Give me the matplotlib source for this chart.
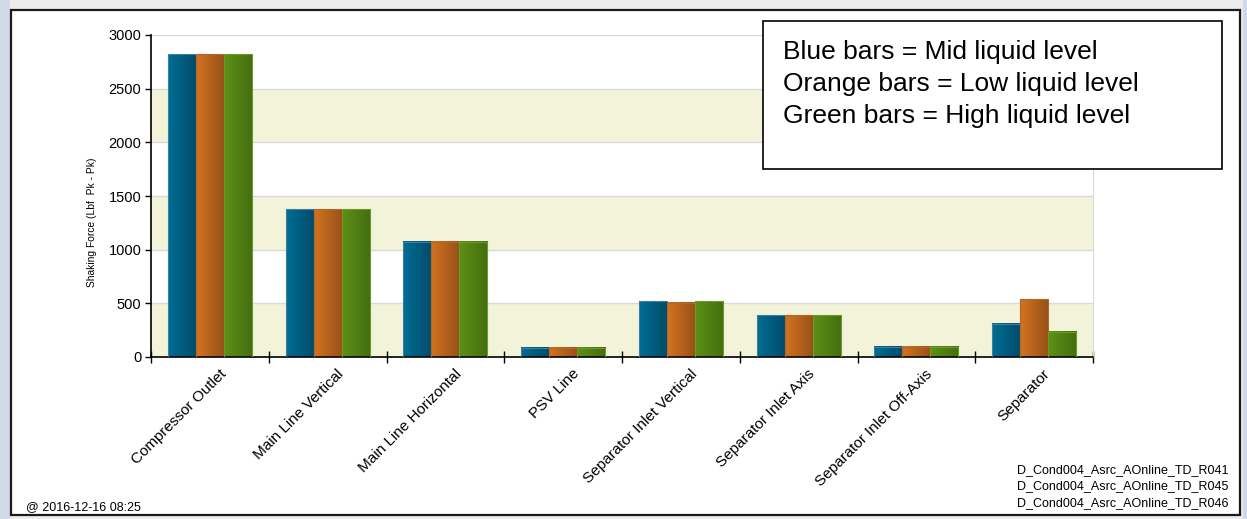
import matplotlib.pyplot as plt
import numpy as np
from matplotlib.colors import LinearSegmentedColormap
from matplotlib.patches import Rectangle
from matplotlib.transforms import ScaledTranslation

plt.rcParams['font.family'] = ['Liberation Sans', 'DejaVu Sans']

categories = ['Compressor Outlet', 'Main Line Vertical', 'Main Line Horizontal', 'PSV Line',
              'Separator Inlet Vertical', 'Separator Inlet Axis', 'Separator Inlet Off-Axis',
              'Separator']
mid_level = [2820, 1375, 1075, 85, 520, 390, 97, 311]
low_level = [2820, 1375, 1075, 85, 506, 390, 97, 540]
high_level = [2820, 1375, 1075, 85, 520, 390, 97, 233]
run_ids = ['D_Cond004_Asrc_AOnline_TD_R041',
           'D_Cond004_Asrc_AOnline_TD_R045',
           'D_Cond004_Asrc_AOnline_TD_R046']
note_lines = ['Blue bars = Mid liquid level',
              'Orange bars = Low liquid level',
              'Green bars = High liquid level']
stamp = '@ 2016-12-16 08:25'

# left (light) -> right (dark) shading for each series
shades = [('#006d95', '#004b69', '#3f7f9c'),
          ('#d4731f', '#975019', '#b0682a'),
          ('#5c9116', '#456d10', '#6a9a2a')]

W, H = 1247, 519
fig = plt.figure(figsize=(W / 100, H / 100), dpi=100)
fig.patch.set_facecolor('#d0dae7')

# window body and frame
fig.patches.append(Rectangle((10 / W, 0), 1233 / W, 1, transform=fig.transFigure,
                             facecolor='#ececec', edgecolor='none', zorder=-2))
fig.patches.append(Rectangle((11 / W, 4 / H), 1229 / W, 505 / H, transform=fig.transFigure,
                             facecolor='white', edgecolor='#1a1a1a', lw=1.6, zorder=-1))

ax = fig.add_axes([151 / W, 1 - 357 / H, (1093 - 151) / W, (357 - 35) / H])
ax.set_zorder(1)

# alternating bands + grid
for lo in range(0, 3000, 1000):
    ax.axhspan(lo, lo + 500, color='#f3f3da', zorder=0, lw=0)
for yv in range(500, 3001, 500):
    ax.axhline(yv, color='#d9d9d9', lw=1, zorder=0.5)

x = np.arange(len(categories))
bw = 0.238
grad = np.linspace(0, 1, 64).reshape(1, -1)
for k, vals in enumerate([mid_level, low_level, high_level]):
    c0, c1, edge = shades[k]
    cmap = LinearSegmentedColormap.from_list('s%d' % k, [c0, c1])
    for xi, v in zip(x + (k - 1) * bw, vals):
        ax.imshow(grad, cmap=cmap, aspect='auto', extent=[xi - bw / 2, xi + bw / 2, 0, v],
                  zorder=2, interpolation='bilinear')
    ax.bar(x + (k - 1) * bw, vals, bw, facecolor='none', edgecolor=edge, lw=0.8, zorder=3)

ax.set_xlim(-0.5, 7.5)
ax.set_ylim(0, 3000)

ax.spines['top'].set_visible(False)
ax.spines['right'].set_color('#d9d9d9')
ax.spines['left'].set_color('black')
ax.spines['bottom'].set_color('black')
ax.spines['left'].set_linewidth(1.2)
ax.spines['bottom'].set_linewidth(1.2)

ax.set_yticks(range(0, 3001, 500))
ax.tick_params(axis='y', direction='out', length=4, width=1, labelsize=10.5, pad=3)
ax.set_xticks(np.arange(-0.5, 8, 1))
ax.set_xticklabels([])
ax.tick_params(axis='x', which='major', direction='inout', length=8, width=1)
ax.set_xticks(x, minor=True)
ax.set_xticklabels(categories, minor=True, rotation=45, ha='right',
                   rotation_mode='anchor', fontsize=11)
ax.tick_params(axis='x', which='minor', length=0, pad=7)
for lbl in ax.get_xticklabels(minor=True):
    lbl.set_transform(lbl.get_transform() + ScaledTranslation(0.09, 0, fig.dpi_scale_trans))

ax.set_ylabel('Shaking Force (Lbf  Pk - Pk)', fontsize=7.4)
ax.yaxis.set_label_coords(-54 / 942, 0.42)

# note box
fig.patches.append(Rectangle((763 / W, 1 - 169 / H), (1222 - 763) / W, (169 - 21) / H,
                             transform=fig.transFigure, facecolor='white',
                             edgecolor='black', lw=1.2, zorder=5))
for i, line in enumerate(note_lines):
    fig.text(783 / W, 1 - (59 + 32 * i) / H, line, fontsize=19, va='baseline',
             ha='left', zorder=6)

for i, rid in enumerate(run_ids):
    fig.text(1228 / W, 1 - (470 + 16.5 * i) / H, rid, fontsize=9, ha='right', va='center')
fig.text(26 / W, 1 - 507 / H, stamp, fontsize=9, ha='left', va='center')

fig.savefig('out.png', dpi=100)
